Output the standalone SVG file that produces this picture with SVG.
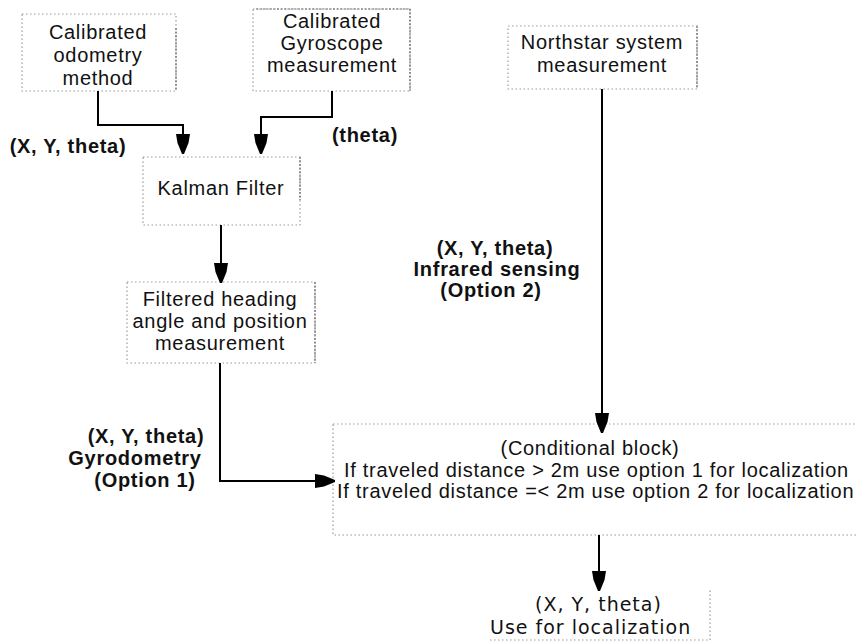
<svg xmlns="http://www.w3.org/2000/svg" width="856" height="644" viewBox="0 0 856 644">
  <style>
    .box { fill: none; stroke: #9a9a9a; stroke-width: 1.2; stroke-dasharray: 1.5 2.5; }
    .edge { fill: none; stroke: #6a6a6a; stroke-width: 1.2; stroke-dasharray: 2 1.5; }
    .t { font-family: "Liberation Sans", Arial, sans-serif; font-size: 20px; letter-spacing: 0.7px; fill: #111; text-anchor: middle; }
    .lbl { font-family: "Liberation Sans", Arial, sans-serif; font-size: 20px; font-weight: bold; letter-spacing: 0.7px; fill: #111; text-anchor: middle; }
    .cond { font-family: "Liberation Sans", Arial, sans-serif; font-size: 20px; letter-spacing: 0.7px; fill: #111; }
    .out { font-family: "DejaVu Sans", Verdana, sans-serif; font-size: 19px; letter-spacing: 1px; fill: #111; }
    .wire { fill: none; stroke: #000; stroke-width: 2; marker-end: url(#head); }
  </style>
  <defs>
    <marker id="head" viewBox="0 0 20 14" refX="19" refY="7" markerWidth="20" markerHeight="14" markerUnits="userSpaceOnUse" orient="auto">
      <path d="M0,0 L9,1.5 L20,6 L20,8 L9,12.5 L0,14 Z" fill="#000"/>
    </marker>
  </defs>
  <rect width="856" height="644" fill="#fff"/>

  <g id="odometry">
    <rect class="box" x="22" y="14" width="154" height="77"/>
    <line class="edge" x1="176" y1="28" x2="176" y2="91"/>
    <text class="t" x="98" y="39">Calibrated</text>
    <text class="t" x="98" y="62">odometry</text>
    <text class="t" x="98" y="85">method</text>
  </g>

  <g id="gyroscope">
    <rect class="box" x="253" y="9" width="157" height="82"/>
    <line class="edge" x1="256" y1="9" x2="410" y2="9"/>
    <line class="edge" x1="410" y1="9" x2="410" y2="91"/>
    <text class="t" x="332" y="28">Calibrated</text>
    <text class="t" x="332" y="50">Gyroscope</text>
    <text class="t" x="332" y="72">measurement</text>
  </g>

  <g id="northstar">
    <rect class="box" x="508" y="26" width="189" height="63"/>
    <line class="edge" x1="697" y1="26" x2="697" y2="89"/>
    <text class="t" x="602" y="49">Northstar system</text>
    <text class="t" x="602" y="72">measurement</text>
  </g>

  <g id="kalman">
    <rect class="box" x="143" y="157" width="157" height="68"/>
    <line class="edge" x1="300" y1="157" x2="300" y2="200"/>
    <text class="t" x="221" y="195">Kalman Filter</text>
  </g>

  <g id="filtered">
    <rect class="box" x="127" y="282" width="188" height="81"/>
    <line class="edge" x1="315" y1="282" x2="315" y2="363"/>
    <text class="t" x="220" y="306">Filtered heading</text>
    <text class="t" x="220" y="328">angle and position</text>
    <text class="t" x="220" y="350">measurement</text>
  </g>

  <g id="conditional">
    <rect class="box" x="333" y="424" width="540" height="111"/>
    <text class="cond" x="590" y="455" text-anchor="middle">(Conditional block)</text>
    <text class="cond" x="344" y="477">If traveled distance &gt; 2m use option 1 for localization</text>
    <text class="cond" x="337" y="498">If traveled distance =&lt; 2m use option 2 for localization</text>
  </g>

  <g id="localization">
    <path class="box" d="M490,640 H710 V590"/>
    <text class="out" x="535" y="611">(X, Y, theta)</text>
    <text class="out" x="490" y="634">Use for localization</text>
  </g>

  <g id="connectors">
    <path class="wire" d="M98,91 V125 H183 V153"/>
    <path class="wire" d="M332,91 V117 H261 V153"/>
    <path class="wire" d="M221,225 V282"/>
    <path class="wire" d="M220,363 V481 H334"/>
    <path class="wire" d="M602,89 V432"/>
    <path class="wire" d="M599,535 V590"/>
    <text class="lbl" x="68" y="153">(X, Y, theta)</text>
    <text class="lbl" x="365" y="142">(theta)</text>
    <text class="lbl" x="495" y="255">(X, Y, theta)</text>
    <text class="lbl" x="497" y="276">Infrared sensing</text>
    <text class="lbl" x="491" y="297">(Option 2)</text>
    <text class="lbl" x="146" y="443">(X, Y, theta)</text>
    <text class="lbl" x="135" y="465">Gyrodometry</text>
    <text class="lbl" x="145" y="487">(Option 1)</text>
  </g>
</svg>
